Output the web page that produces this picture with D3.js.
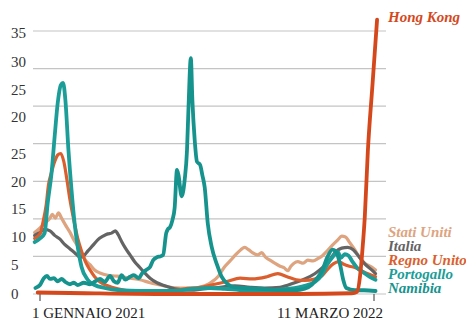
<!DOCTYPE html>
<html>
<head>
<meta charset="utf-8">
<script src="https://cdn.jsdelivr.net/npm/d3@7"></script>
<style>
  body { margin: 0; background: #fff; }
  svg { display: block; }
</style>
</head>
<body>
<div id="chart"></div>
<script>
// deaths per million, 7-day average
const statiUniti = [
  ["2020-12-25", 8.2], ["2021-01-01", 8.8], ["2021-01-07", 9.4], ["2021-01-14", 10.1], ["2021-01-17", 10.6],
  ["2021-01-21", 10.1], ["2021-01-25", 10.8], ["2021-01-29", 10.1], ["2021-02-03", 9.2], ["2021-02-09", 8.2],
  ["2021-02-14", 7.2], ["2021-02-19", 6.4], ["2021-02-24", 5.5], ["2021-03-01", 4.5], ["2021-03-07", 3.9],
  ["2021-03-13", 3.2], ["2021-03-20", 2.8], ["2021-03-30", 2.5], ["2021-04-08", 2.4], ["2021-04-17", 2.3],
  ["2021-04-28", 2.1], ["2021-05-11", 1.9], ["2021-05-24", 1.5], ["2021-06-06", 1.2], ["2021-06-19", 0.9],
  ["2021-07-02", 0.8], ["2021-07-21", 0.8], ["2021-08-03", 1.1], ["2021-08-12", 1.6], ["2021-08-21", 2.4],
  ["2021-08-28", 3.5], ["2021-09-05", 4.4], ["2021-09-12", 5.2], ["2021-09-19", 5.9], ["2021-09-24", 6.2],
  ["2021-09-29", 5.9], ["2021-10-04", 5.5], ["2021-10-11", 5.2], ["2021-10-16", 5.5], ["2021-10-21", 4.9],
  ["2021-10-27", 4.5], ["2021-11-02", 4.1], ["2021-11-09", 3.7], ["2021-11-14", 3.5], ["2021-11-19", 3.1],
  ["2021-11-23", 3.7], ["2021-11-27", 4.1], ["2021-12-02", 4.3], ["2021-12-09", 4.1], ["2021-12-15", 4.5],
  ["2021-12-22", 4.4], ["2021-12-28", 4.7], ["2022-01-03", 5.1], ["2022-01-09", 5.7], ["2022-01-16", 6.5],
  ["2022-01-23", 7.2], ["2022-01-28", 7.7], ["2022-02-02", 7.6], ["2022-02-07", 6.9], ["2022-02-14", 5.9],
  ["2022-02-20", 4.9], ["2022-02-27", 4.1], ["2022-03-08", 3.6], ["2022-03-13", 3.2]
];

const italia = [
  ["2020-12-25", 7.8], ["2021-01-01", 8.2], ["2021-01-07", 8.6], ["2021-01-14", 8.4], ["2021-01-20", 7.8],
  ["2021-01-27", 7.3], ["2021-02-02", 6.6], ["2021-02-09", 6.0], ["2021-02-15", 5.5], ["2021-02-22", 4.9],
  ["2021-02-27", 5.1], ["2021-03-04", 5.7], ["2021-03-11", 6.5], ["2021-03-17", 7.2], ["2021-03-24", 7.7],
  ["2021-03-30", 8.0], ["2021-04-04", 8.1], ["2021-04-09", 8.4], ["2021-04-12", 8.0], ["2021-04-17", 7.0],
  ["2021-04-22", 6.1], ["2021-04-28", 5.2], ["2021-05-04", 4.3], ["2021-05-11", 3.5], ["2021-05-17", 2.8],
  ["2021-05-24", 2.1], ["2021-06-02", 1.5], ["2021-06-12", 1.1], ["2021-06-25", 0.7], ["2021-07-15", 0.5],
  ["2021-08-03", 0.7], ["2021-08-23", 0.9], ["2021-09-11", 1.1], ["2021-10-01", 0.9], ["2021-10-20", 0.8],
  ["2021-11-09", 0.9], ["2021-11-28", 1.5], ["2021-12-11", 2.0], ["2021-12-24", 2.7], ["2022-01-03", 3.5],
  ["2022-01-12", 4.5], ["2022-01-20", 5.6], ["2022-01-28", 6.1], ["2022-02-05", 6.2], ["2022-02-12", 5.9],
  ["2022-02-20", 4.9], ["2022-02-27", 4.0], ["2022-03-08", 3.2], ["2022-03-13", 2.7]
];

const regnoUnito = [
  ["2020-12-25", 7.4], ["2021-01-01", 8.0], ["2021-01-05", 9.6], ["2021-01-09", 11.8], ["2021-01-12", 14.5],
  ["2021-01-16", 16.2], ["2021-01-20", 17.6], ["2021-01-24", 18.5], ["2021-01-28", 18.7], ["2021-02-01", 17.6],
  ["2021-02-05", 15.2], ["2021-02-09", 12.5], ["2021-02-14", 9.8], ["2021-02-19", 7.4], ["2021-02-24", 5.7],
  ["2021-03-01", 4.3], ["2021-03-07", 3.2], ["2021-03-13", 2.3], ["2021-03-20", 1.6], ["2021-03-30", 1.1],
  ["2021-04-12", 0.7], ["2021-04-28", 0.4], ["2021-05-24", 0.3], ["2021-06-19", 0.4], ["2021-07-08", 0.7],
  ["2021-07-28", 0.9], ["2021-08-16", 1.3], ["2021-09-02", 1.7], ["2021-09-18", 2.1], ["2021-10-04", 2.0],
  ["2021-10-23", 2.3], ["2021-11-06", 2.7], ["2021-11-18", 2.3], ["2021-11-30", 1.9], ["2021-12-11", 1.8],
  ["2021-12-24", 2.0], ["2022-01-02", 2.4], ["2022-01-09", 3.2], ["2022-01-17", 4.0], ["2022-01-24", 4.3],
  ["2022-01-30", 4.0], ["2022-02-07", 3.7], ["2022-02-15", 3.5], ["2022-02-22", 3.1], ["2022-03-03", 2.7],
  ["2022-03-13", 2.3]
];

const portogallo = [
  ["2020-12-25", 6.9], ["2021-01-01", 7.4], ["2021-01-07", 8.1], ["2021-01-11", 12.1], ["2021-01-16", 16.1],
  ["2021-01-20", 20.9], ["2021-01-24", 25.4], ["2021-01-28", 27.8], ["2021-01-31", 28.1], ["2021-02-03", 25.8],
  ["2021-02-07", 19.1], ["2021-02-11", 13.8], ["2021-02-15", 9.4], ["2021-02-19", 6.3], ["2021-02-24", 3.6],
  ["2021-03-04", 1.9], ["2021-03-13", 1.2], ["2021-03-26", 0.8], ["2021-04-15", 0.5], ["2021-05-11", 0.4],
  ["2021-06-19", 0.4], ["2021-07-21", 0.7], ["2021-08-10", 0.8], ["2021-08-29", 0.7], ["2021-09-24", 0.5],
  ["2021-10-27", 0.5], ["2021-11-21", 0.7], ["2021-12-11", 1.1], ["2021-12-24", 1.6], ["2022-01-02", 2.5],
  ["2022-01-09", 3.9], ["2022-01-16", 4.9], ["2022-01-23", 5.6], ["2022-01-27", 4.8], ["2022-02-01", 5.3],
  ["2022-02-06", 5.1], ["2022-02-11", 4.3], ["2022-02-17", 3.5], ["2022-02-25", 2.9], ["2022-03-05", 2.3],
  ["2022-03-13", 1.9]
];

const namibia = [
  ["2020-12-26", 0.8], ["2021-01-01", 1.2], ["2021-01-06", 2.1], ["2021-01-10", 2.4], ["2021-01-14", 2.0],
  ["2021-01-19", 2.1], ["2021-01-24", 1.7], ["2021-01-29", 2.0], ["2021-02-03", 1.6], ["2021-02-09", 1.3],
  ["2021-02-14", 1.5], ["2021-02-19", 1.2], ["2021-02-27", 1.5], ["2021-03-07", 1.3], ["2021-03-14", 1.7],
  ["2021-03-20", 2.0], ["2021-03-26", 1.6], ["2021-04-02", 2.4], ["2021-04-07", 1.7], ["2021-04-12", 1.5],
  ["2021-04-17", 2.5], ["2021-04-22", 1.9], ["2021-04-28", 2.3], ["2021-05-03", 2.5], ["2021-05-09", 2.1],
  ["2021-05-14", 2.8], ["2021-05-19", 3.2], ["2021-05-24", 3.6], ["2021-05-28", 4.5], ["2021-06-02", 4.9],
  ["2021-06-06", 5.0], ["2021-06-10", 5.2], ["2021-06-14", 8.1], ["2021-06-16", 8.6], ["2021-06-19", 8.9],
  ["2021-06-22", 9.8], ["2021-06-25", 11.5], ["2021-06-28", 16.5], ["2021-06-30", 15.8], ["2021-07-04", 13.0],
  ["2021-07-08", 15.2], ["2021-07-11", 19.1], ["2021-07-13", 24.9], ["2021-07-16", 31.4], ["2021-07-18", 25.8],
  ["2021-07-21", 20.5], ["2021-07-24", 17.6], ["2021-07-28", 17.2], ["2021-07-31", 15.8], ["2021-08-03", 14.2],
  ["2021-08-07", 9.4], ["2021-08-12", 6.3], ["2021-08-19", 3.9], ["2021-08-25", 2.3], ["2021-09-02", 1.3],
  ["2021-09-11", 0.9], ["2021-09-24", 0.8], ["2021-10-14", 0.7], ["2021-11-09", 0.5], ["2021-11-28", 0.5],
  ["2021-12-11", 0.7], ["2021-12-20", 1.2], ["2021-12-27", 2.1], ["2022-01-03", 3.2], ["2022-01-09", 4.8],
  ["2022-01-16", 5.9], ["2022-01-21", 5.6], ["2022-01-26", 3.9], ["2022-01-30", 1.9], ["2022-02-03", 0.8],
  ["2022-02-14", 0.5], ["2022-02-26", 0.5], ["2022-03-13", 0.4]
];

const hongKong = [
  ["2020-12-29", 0.2], ["2021-03-01", 0.1], ["2021-06-01", 0.0], ["2021-12-01", 0.0], ["2022-02-10", 0.1],
  ["2022-02-17", 0.3], ["2022-02-21", 2.5], ["2022-02-24", 5.9], ["2022-02-27", 10.2], ["2022-03-03", 19.0],
  ["2022-03-09", 27.8], ["2022-03-15", 36.5]
];

// y axis: gridlines every 5, labels as printed in the original
const yGrid = [0, 5, 10, 15, 20, 25, 30, 35];
const yTickLabels = ["35", "30", "25", "20", "25", "20", "15", "10", "5", "0"];
const yTickLabelAt = [34.8, 30.9, 27.1, 23.5, 18.6, 14.9, 11.3, 7.6, 3.9, 0];

const xTicks = ["2021-01-01", "2022-03-11"];
const xTickLabels = ["1 GENNAIO 2021", "11 MARZO 2022"];

const seriesNames = ["Stati Uniti", "Italia", "Regno Unito", "Portogallo", "Namibia", "Hong Kong"];
const seriesData = [statiUniti, italia, regnoUnito, portogallo, namibia, hongKong];
const seriesColors = ["#dda47f", "#646464", "#db5f2e", "#1c9d98", "#17938e", "#d4481c"];
const seriesWidths = [3.2, 3.2, 3.2, 3.8, 3.8, 3.8];

const W = 466, H = 322;
const FONT = "'Liberation Serif', 'DejaVu Serif', 'Times New Roman', serif";
const parse = d3.timeParse("%Y-%m-%d");

const svg = d3.select("#chart").append("svg")
    .attr("width", W)
    .attr("height", H)
    .attr("font-family", FONT);

const x = d3.scaleTime()
    .domain([parse(xTicks[0]), parse(xTicks[1])])
    .range([40, 374]);

const y = d3.scaleLinear()
    .domain([0, 35])
    .range([294, 31]);

// gridlines
svg.append("g").selectAll("line")
    .data(yGrid)
    .enter().append("line")
    .attr("x1", 33)
    .attr("x2", 386)
    .attr("y1", d => y(d))
    .attr("y2", d => y(d))
    .attr("stroke", "#c4c4c4")
    .attr("stroke-width", 1.2);

// y labels
svg.append("g").selectAll("text")
    .data(yTickLabels)
    .enter().append("text")
    .attr("x", 11)
    .attr("y", (d, i) => y(yTickLabelAt[i]) + 5)
    .attr("font-family", FONT)
    .attr("font-size", 15)
    .attr("fill", "#333")
    .text(d => d);

// x ticks
let xg = svg.append("g");
xg.selectAll("line")
    .data(xTicks)
    .enter().append("line")
    .attr("x1", d => x(parse(d)))
    .attr("x2", d => x(parse(d)))
    .attr("y1", 294)
    .attr("y2", 301)
    .attr("stroke", "#555")
    .attr("stroke-width", 1.2);

xg.selectAll("text")
    .data(xTickLabels)
    .enter().append("text")
    .attr("x", (d, i) => i === 0 ? x(parse(xTicks[i])) - 8 : x(parse(xTicks[i])) + 9)
    .attr("y", 318)
    .attr("text-anchor", (d, i) => i === 0 ? "start" : "end")
    .attr("font-family", FONT)
    .attr("font-size", 15)
    .attr("fill", "#222")
    .text(d => d);

// lines
const line = d3.line()
    .x(d => x(parse(d[0])))
    .y(d => y(d[1]))
    .curve(d3.curveMonotoneX);

svg.append("g").selectAll("path")
    .data(seriesData)
    .enter().append("path")
    .attr("d", d => line(d))
    .attr("fill", "none")
    .attr("stroke", (d, i) => seriesColors[i])
    .attr("stroke-width", (d, i) => seriesWidths[i])
    .attr("stroke-linejoin", "round")
    .attr("stroke-linecap", "round");

// labels on the right
const labelY = [237, 251, 265, 279, 293, 22];
svg.append("g").selectAll("text")
    .data(seriesNames)
    .enter().append("text")
    .attr("x", 388)
    .attr("y", (d, i) => labelY[i])
    .attr("font-family", FONT)
    .attr("font-size", 15)
    .attr("font-style", "italic")
    .attr("font-weight", "bold")
    .attr("fill", (d, i) => seriesColors[i])
    .text(d => d);
</script>
</body>
</html>
